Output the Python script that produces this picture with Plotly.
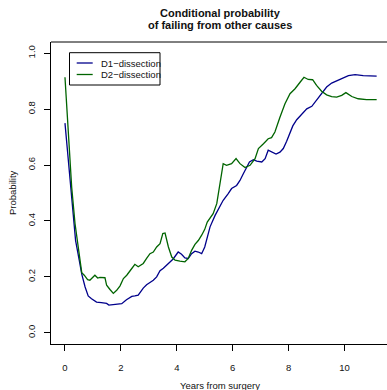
import plotly.graph_objects as go

# ---- data ----
d1_years = [0.0, 0.1, 0.21, 0.3, 0.38, 0.51, 0.6, 0.72, 0.83, 0.95, 1.13, 1.3, 1.49, 1.57, 1.73,
            2.03, 2.2, 2.39, 2.5, 2.62, 2.8, 2.92, 3.04, 3.16, 3.28, 3.4, 3.52, 3.7, 3.87, 4.05,
            4.17, 4.29, 4.41, 4.53, 4.65, 4.77, 4.89, 5.0, 5.09, 5.19, 5.37, 5.55, 5.66, 5.84,
            5.96, 6.14, 6.26, 6.38, 6.5, 6.6, 6.74, 6.86, 7.04, 7.16, 7.27, 7.39, 7.55, 7.69,
            7.81, 7.93, 8.05, 8.15, 8.29, 8.47, 8.65, 8.83, 9.0, 9.18, 9.36, 9.54, 9.72, 9.9,
            10.14, 10.38, 10.67, 11.15]
d1_prob = [0.75, 0.64, 0.52, 0.40, 0.33, 0.26, 0.21, 0.164, 0.132, 0.122, 0.11, 0.108, 0.105,
           0.099, 0.101, 0.104, 0.118, 0.13, 0.132, 0.135, 0.16, 0.172, 0.18, 0.188, 0.2, 0.222,
           0.231, 0.249, 0.264, 0.289, 0.281, 0.268, 0.266, 0.283, 0.292, 0.289, 0.283, 0.307,
           0.34, 0.379, 0.42, 0.456, 0.474, 0.498, 0.516, 0.527, 0.545, 0.569, 0.593, 0.611,
           0.619, 0.614, 0.611, 0.623, 0.653, 0.648, 0.639, 0.646, 0.659, 0.685, 0.712, 0.74,
           0.762, 0.783, 0.801, 0.81, 0.831, 0.855, 0.879, 0.893, 0.9, 0.909, 0.92, 0.923,
           0.92, 0.918]

d2_years = [0.0, 0.1, 0.24, 0.36, 0.48, 0.6, 0.69, 0.81, 0.89, 1.01, 1.07, 1.17, 1.25, 1.43,
            1.49, 1.61, 1.73, 1.85, 1.97, 2.09, 2.21, 2.39, 2.5, 2.62, 2.8, 2.92, 3.04, 3.16,
            3.28, 3.4, 3.5, 3.58, 3.7, 3.82, 3.94, 4.11, 4.29, 4.41, 4.53, 4.65, 4.77, 4.89,
            5.0, 5.09, 5.19, 5.3, 5.43, 5.55, 5.66, 5.78, 5.96, 6.12, 6.26, 6.44, 6.62, 6.8,
            6.92, 7.1, 7.27, 7.39, 7.51, 7.69, 7.87, 8.05, 8.23, 8.41, 8.55, 8.7, 8.86, 9.0,
            9.18, 9.36, 9.54, 9.72, 9.9, 10.05, 10.26, 10.49, 10.79, 11.15]
d2_prob = [0.914, 0.76, 0.52, 0.39, 0.295, 0.215, 0.206, 0.19, 0.188, 0.2, 0.206, 0.196, 0.198,
           0.197, 0.17, 0.155, 0.141, 0.152, 0.168, 0.194, 0.206, 0.23, 0.245, 0.236, 0.248,
           0.266, 0.283, 0.289, 0.307, 0.319, 0.355, 0.357, 0.307, 0.271, 0.26, 0.256, 0.254,
           0.266, 0.295, 0.316, 0.33, 0.349, 0.37, 0.396, 0.409, 0.426, 0.462, 0.534, 0.605,
           0.599, 0.605, 0.623, 0.605, 0.591, 0.599, 0.623, 0.659, 0.676, 0.694, 0.698, 0.718,
           0.771, 0.819, 0.855, 0.873, 0.896, 0.914, 0.906, 0.905, 0.885, 0.864, 0.851, 0.845,
           0.843, 0.849, 0.859, 0.845, 0.837, 0.834, 0.834]

series_names = ["D1\u2212dissection", "D2\u2212dissection"]
series_colors = ["#00008B", "#006400"]
x_ticks = [0, 2, 4, 6, 8, 10]
y_ticks = [0.0, 0.2, 0.4, 0.6, 0.8, 1.0]
y_tick_labels = ["0.0", "0.2", "0.4", "0.6", "0.8", "1.0"]

FONT = "Liberation Sans, Arial, Helvetica, sans-serif"
TXT = "#111111"

# plot-area geometry in pixels (for paper-coordinate placement of decorations)
W, H = 387, 390
ML, MR, MT, MB = 51, 0, 42, 46
PW, PH = W - ML - MR, H - MT - MB


def px(xp):
    return (xp - ML) / PW


def py(yp):
    return (H - MB - yp) / PH


fig = go.Figure()
for xs, ys, nm, col in [(d1_years, d1_prob, series_names[0], series_colors[0]),
                        (d2_years, d2_prob, series_names[1], series_colors[1])]:
    fig.add_trace(go.Scatter(x=xs, y=ys, mode="lines", name=nm,
                             line=dict(color=col, width=1.3)))

# compact R-style legend: box, short line samples, labels
shapes = [
    dict(type="line", xref="paper", yref="paper", x0=0, x1=1, y0=1, y1=1,
         line=dict(color="black", width=1)),
    dict(type="rect", xref="paper", yref="paper", x0=px(69.5), x1=px(160), y0=py(52.7), y1=py(85),
         line=dict(color="black", width=1), fillcolor="white", layer="above"),
]
annotations = []
row_y = [63.0, 74.5]
for i in range(2):
    shapes.append(dict(type="line", xref="paper", yref="paper", x0=px(76.7), x1=px(92.7),
                       y0=py(row_y[i]), y1=py(row_y[i]),
                       line=dict(color=series_colors[i], width=1.3), layer="above"))
    annotations.append(dict(text=series_names[i], xref="paper", yref="paper",
                            x=px(99.5), y=py(row_y[i]), xanchor="left", yanchor="middle",
                            showarrow=False, borderpad=0,
                            font=dict(size=9.5, family=FONT, color=TXT)))

annotations += [
    dict(text="<b>Conditional probability</b>", xref="paper", yref="paper",
         x=px(220), y=py(12.7), xanchor="center", yanchor="middle",
         showarrow=False, font=dict(size=11, family=FONT, color=TXT)),
    dict(text="<b>of failing from other causes</b>", xref="paper", yref="paper",
         x=px(220), y=py(25), xanchor="center", yanchor="middle",
         showarrow=False, font=dict(size=11, family=FONT, color=TXT)),
    dict(text="Years from surgery", xref="paper", yref="paper",
         x=px(220), y=py(385), xanchor="center", yanchor="middle",
         showarrow=False, font=dict(size=9.5, family=FONT, color=TXT)),
    dict(text="Probability", xref="paper", yref="paper", textangle=-90,
         x=px(12), y=0.5, xanchor="center", yanchor="middle",
         showarrow=False, font=dict(size=9.5, family=FONT, color=TXT)),
]

fig.update_layout(
    width=W, height=H,
    margin=dict(l=ML, r=MR, t=MT, b=MB),
    paper_bgcolor="white", plot_bgcolor="white",
    font=dict(family=FONT, size=9.5, color=TXT),
    showlegend=False,
    xaxis=dict(range=[-0.5, 11.52], tickvals=x_ticks, ticks="outside", ticklen=6,
               tickcolor="black", showline=True, linecolor="black", linewidth=1,
               showgrid=False, zeroline=False, tickfont=dict(size=9.5),
               ticklabelstandoff=9),
    yaxis=dict(range=[-0.04, 1.04], tickvals=y_ticks, ticktext=y_tick_labels,
               ticks="outside", ticklen=6, tickcolor="black", tickangle=-90,
               showline=True, linecolor="black", linewidth=1,
               showgrid=False, zeroline=False, tickfont=dict(size=9.5),
               ticklabelstandoff=5),
    shapes=shapes,
    annotations=annotations,
)

fig.write_html("out.html")
